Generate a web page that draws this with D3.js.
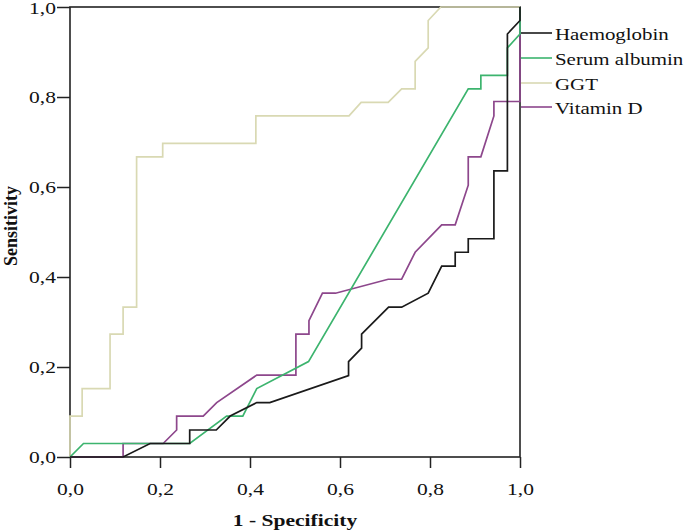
<!DOCTYPE html>
<html>
<head>
<meta charset="utf-8">
<script src="https://cdn.jsdelivr.net/npm/d3@7"></script>
<style>
  html, body { margin: 0; padding: 0; background: #fff; }
  svg { display: block; }
  text { font-family: "Liberation Serif", "Times New Roman", serif; fill: #111; }
</style>
</head>
<body>
<svg id="chart" width="685" height="531"></svg>
<script>
// ---- data ----
const seriesNames = ["Haemoglobin", "Serum albumin", "GGT", "Vitamin D"];
const seriesColors = ["#1a1a1a", "#3cb46e", "#d9d9b3", "#8d478c"];

const haemoglobin = [[0,0],[0.118,0],[0.178,0.03],[0.266,0.03],[0.266,0.06],[0.325,0.06],[0.356,0.091],
  [0.415,0.121],[0.444,0.121],[0.619,0.181],[0.619,0.212],[0.648,0.242],[0.648,0.273],[0.708,0.333],
  [0.737,0.333],[0.796,0.364],[0.826,0.424],[0.856,0.424],[0.856,0.455],[0.885,0.455],[0.885,0.485],
  [0.942,0.485],[0.942,0.636],[0.972,0.636],[0.972,0.94],[1,0.97],[1,1]];

const serumAlbumin = [[0,0],[0.03,0.03],[0.266,0.03],[0.348,0.091],[0.384,0.091],[0.415,0.152],
  [0.53,0.212],[0.885,0.818],[0.913,0.818],[0.913,0.848],[0.972,0.848],[0.972,0.909],[1,0.94],[1,1]];

const ggt = [[0,0],[0,0.091],[0.027,0.091],[0.027,0.152],[0.089,0.152],[0.089,0.273],[0.118,0.273],
  [0.118,0.333],[0.148,0.333],[0.148,0.667],[0.206,0.667],[0.206,0.697],[0.413,0.697],[0.413,0.758],
  [0.62,0.758],[0.647,0.788],[0.707,0.788],[0.737,0.818],[0.767,0.818],[0.767,0.879],[0.796,0.909],
  [0.796,0.97],[0.824,1],[1,1]];

const vitaminD = [[0,0],[0.118,0],[0.118,0.03],[0.207,0.03],[0.237,0.06],[0.237,0.091],[0.296,0.091],
  [0.326,0.121],[0.415,0.182],[0.502,0.182],[0.502,0.273],[0.531,0.273],[0.531,0.303],[0.561,0.364],
  [0.59,0.364],[0.707,0.395],[0.737,0.395],[0.767,0.455],[0.826,0.516],[0.856,0.516],[0.885,0.604],
  [0.885,0.667],[0.913,0.667],[0.942,0.758],[0.942,0.79],[1,0.79],[1,1]];

const tickValues = [0, 0.2, 0.4, 0.6, 0.8, 1.0];
const xTitle = "1 - Specificity";
const yTitle = "Sensitivity";

// ---- drawing ----
const svg = d3.select("#chart");
const X0 = 70, X1 = 520, Y0 = 457, Y1 = 7;
const SX = 1.23; // horizontal text stretch
const x = d3.scaleLinear().domain([0, 1]).range([X0, X1]);
const y = d3.scaleLinear().domain([0, 1]).range([Y0, Y1]);
const fmt = d3.formatLocale({decimal: ",", thousands: ".", grouping: [3], currency: ["", ""]}).format(".1f");

// axes
const gx = svg.append("g").attr("transform", `translate(0,${Y0})`)
  .call(d3.axisBottom(x).tickValues(tickValues).tickSize(11).tickFormat(fmt));
gx.select(".domain").remove();
gx.selectAll(".tick line").attr("stroke", "#222").attr("stroke-width", 1.5);
gx.selectAll(".tick text").attr("y", null).attr("dy", null)
  .attr("transform", `translate(0,38) scale(${SX},1)`)
  .style("font-size", "17.5px").attr("fill", "#111");

const gy = svg.append("g").attr("transform", `translate(${X0},0)`)
  .call(d3.axisLeft(y).tickValues(tickValues).tickSize(13).tickFormat(fmt));
gy.select(".domain").remove();
gy.selectAll(".tick line").attr("stroke", "#222").attr("stroke-width", 1.5);
gy.selectAll(".tick text").attr("x", null).attr("dy", "0.34em")
  .attr("transform", d => `translate(-14,${d === 1 ? 1 : 0}) scale(${SX},1)`)
  .style("font-size", "17.5px").attr("fill", "#111");

// frame
svg.append("rect").attr("x", X0).attr("y", Y1).attr("width", X1 - X0).attr("height", Y0 - Y1)
  .attr("fill", "none").attr("stroke", "#222").attr("stroke-width", 1.6);

// curves
const line = d3.line().x(d => x(d[0])).y(d => y(d[1]));
const seriesData = [haemoglobin, serumAlbumin, ggt, vitaminD];
const drawOrder = [2, 3, 1, 0];
drawOrder.forEach(i => {
  svg.append("path").datum(seriesData[i])
    .attr("d", line).attr("fill", "none")
    .attr("stroke", seriesColors[i]).attr("stroke-width", 1.7)
    .attr("stroke-linejoin", "miter");
});

// legend
const legendY = [33, 58, 83, 107];
seriesNames.forEach((name, i) => {
  svg.append("line").attr("x1", X1 + 1).attr("x2", 552)
    .attr("y1", legendY[i]).attr("y2", legendY[i])
    .attr("stroke", seriesColors[i]).attr("stroke-width", 1.6);
  svg.append("text").text(name)
    .attr("transform", `translate(555,${legendY[i] + 6.5}) scale(${SX},1)`)
    .style("font-size", "17px");
});

// titles
svg.append("text").text(xTitle)
  .attr("transform", `translate(${(X0 + X1) / 2},526) scale(${SX},1)`)
  .attr("text-anchor", "middle").style("font-size", "17.5px").style("font-weight", "bold");
svg.append("text").text(yTitle)
  .attr("transform", `translate(17,226) rotate(-90)`)
  .attr("text-anchor", "middle").style("font-size", "18px").style("font-weight", "bold");
</script>
</body>
</html>
